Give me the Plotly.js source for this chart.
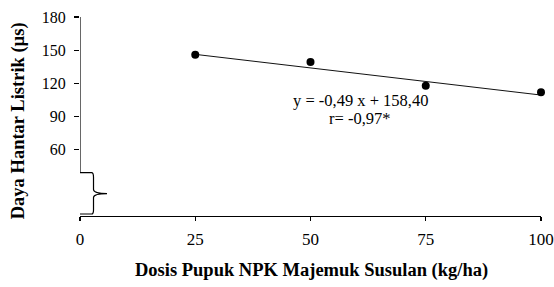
<!DOCTYPE html>
<html><head><meta charset="utf-8">
<script src="https://cdn.plot.ly/plotly-3.0.1.min.js"></script>
<style>html,body{margin:0;padding:0;background:#fff}#chart{width:554px;height:287px}</style>
</head><body><div id="chart"></div>
<script>
const dosis = [25, 50, 75, 100];
const dhl = [145.8, 139.2, 117.9, 111.9];
const trendX = [25, 100];
const trendY = [146.2, 109.4];
const yTicks = [60, 90, 120, 150, 180];
const xTicks = [0, 25, 50, 75, 100];
const eqText = "y = -0,49 x + 158,40";
const rText = "r= -0,97*";
const xTitle = "Dosis Pupuk NPK Majemuk Susulan (kg/ha)";
const yTitle = "Daya Hantar Listrik (µs)";

const serif = "Liberation Serif, Times New Roman, serif";
const traces = [
  {x: trendX, y: trendY, mode: 'lines', line: {color: '#111', width: 1}, hoverinfo: 'skip', cliponaxis: false},
  {x: dosis, y: dhl, mode: 'markers', marker: {color: '#000', size: 8}, cliponaxis: false}
];
const layout = {
  width: 554, height: 287,
  margin: {l: 80, r: 13, t: 17, b: 70.5},
  showlegend: false,
  paper_bgcolor: '#fff', plot_bgcolor: '#fff',
  font: {family: serif, color: '#000', size: 14},
  xaxis: {range: [0, 100], tickvals: xTicks, ticktext: xTicks.map(String),
    showline: true, linecolor: '#000', linewidth: 1.2, showgrid: false, zeroline: false,
    ticks: 'outside', ticklen: 4, tickcolor: '#000', tickwidth: 1.2, ticklabelstandoff: 3,
    tickfont: {family: serif, size: 17, color: '#000'}},
  yaxis: {range: [0, 180], tickvals: yTicks, ticktext: yTicks.map(String),
    showline: false, showgrid: false, zeroline: false,
    ticks: 'outside', ticklen: 5, tickcolor: '#000', tickwidth: 1.2, ticklabelstandoff: 5,
    tickfont: {family: serif, size: 16, color: '#000'}},
  shapes: [
    {type: 'line', xref: 'x', yref: 'y', x0: 0, x1: 0, y0: 39.3, y1: 180, line: {color: '#000', width: 1.2}},
    {type: 'path', xref: 'x', yref: 'y',
     path: 'M 0,39.3 L 2.5,39.3 Q 2.93,39.3 2.93,35 L 2.93,24 Q 2.93,20.3 5.86,20.3 Q 2.93,20.3 2.93,16.7 L 2.93,5.5 Q 2.93,1.8 2.5,1.8 L -0.4,1.8',
     line: {color: '#000', width: 1.2}}
  ],
  annotations: [
    {text: eqText, x: 360, y: 100.5, showarrow: false, font: {family: serif, size: 16.5}},
    {text: rText, x: 360, y: 119, showarrow: false, font: {family: serif, size: 16.5}},
    {text: '<b>' + xTitle + '</b>', x: 311, y: 271, showarrow: false, font: {family: serif, size: 18.5}},
    {text: '<b>' + yTitle + '</b>', x: 18, y: 121.5, textangle: -90, showarrow: false, font: {family: serif, size: 18.5}}
  ]
};
// convert pixel-positioned annotations to paper coords
const pw = 554 - 80 - 13, ph = 287 - 17 - 70.5;
layout.annotations.forEach(a => {
  a.xref = 'paper'; a.yref = 'paper';
  a.x = (a.x - 80) / pw; a.y = (287 - 70.5 - a.y) / ph;
  a.xanchor = 'center'; a.yanchor = 'middle';
});
Plotly.newPlot('chart', traces, layout, {displayModeBar: false, staticPlot: true});
</script></body></html>
